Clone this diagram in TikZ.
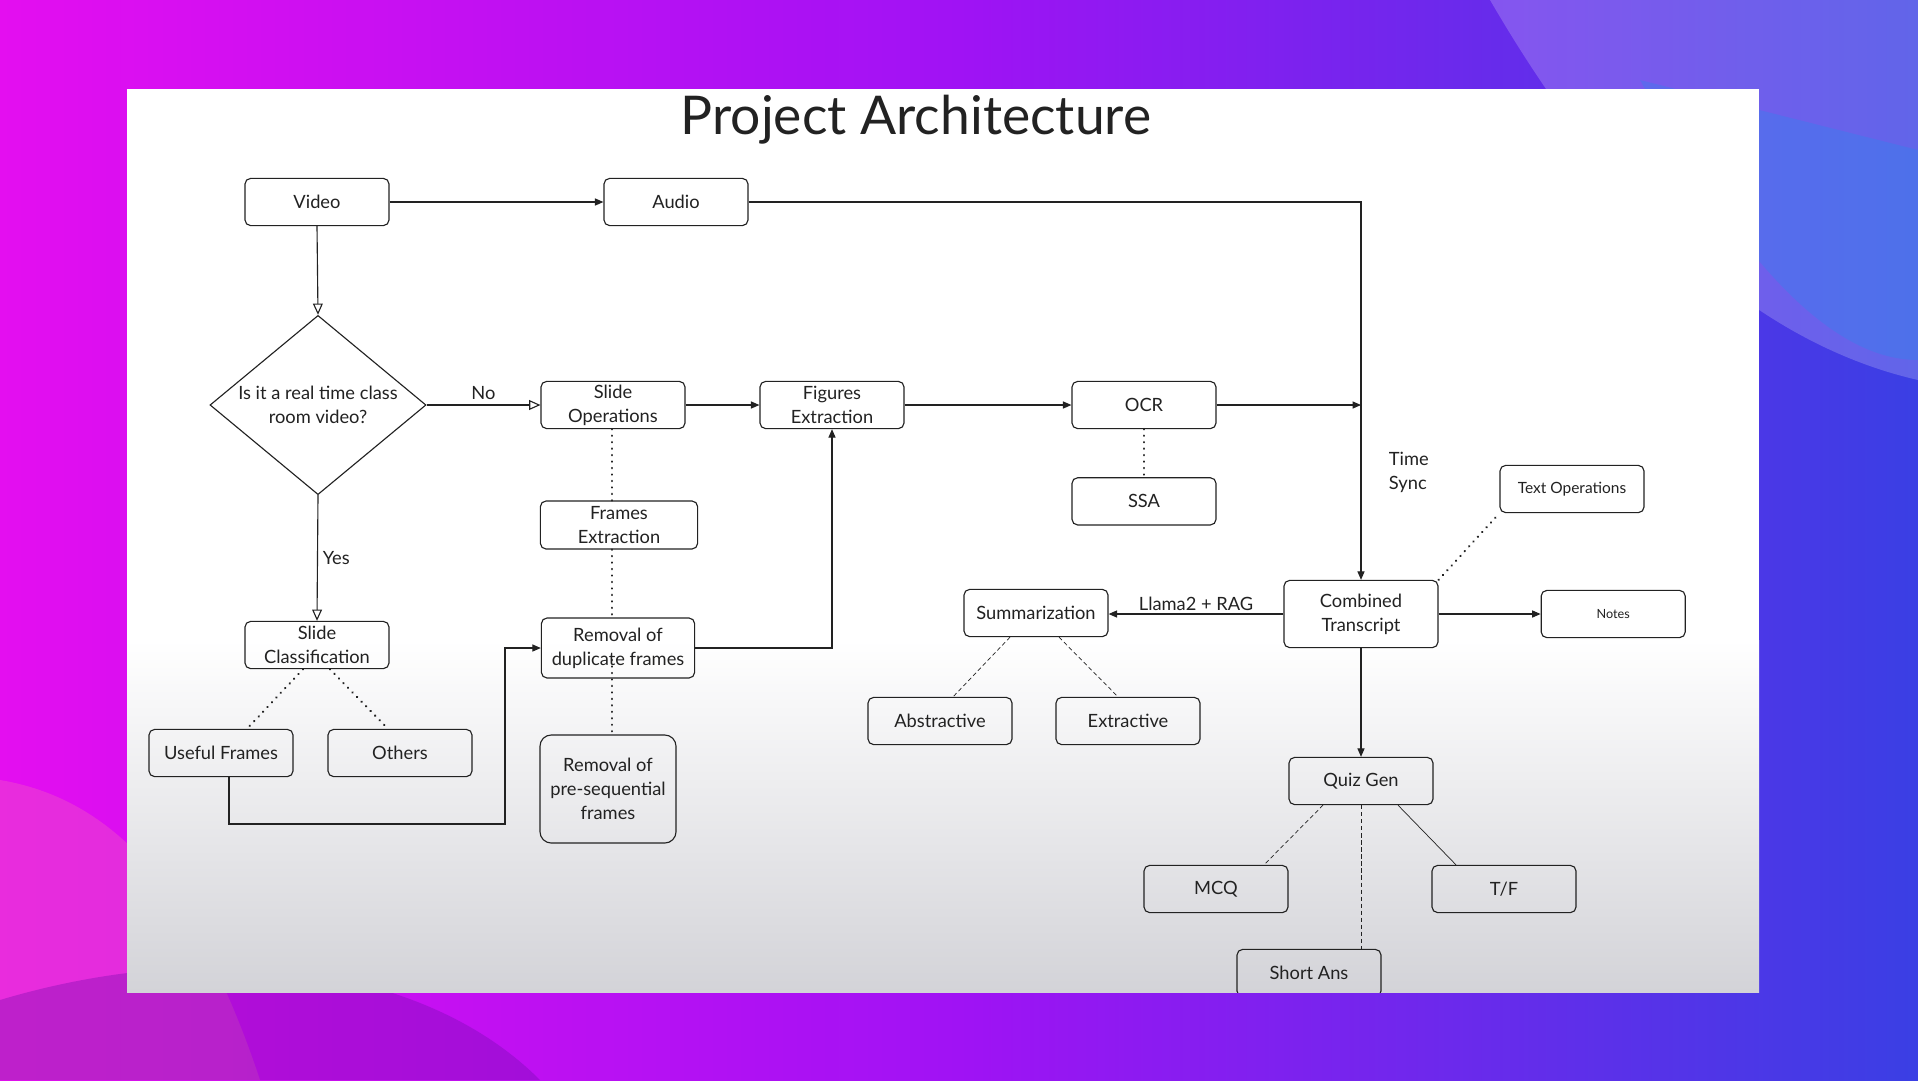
\documentclass[tikz,border=0pt]{standalone}
\usepackage{fontspec}
\setmainfont{Lato}
\usetikzlibrary{arrows.meta,positioning,shapes.geometric,calc}

\definecolor{ink}{HTML}{222222}
\definecolor{bgpink}{HTML}{E40EF0}
\definecolor{bgpurple}{HTML}{A012F4}
\definecolor{bgblue}{HTML}{3A3FE4}
\definecolor{slidegray}{HTML}{D3D3D8}

\tikzset{
  procbox/.style={
    rectangle, rounded corners=4pt, draw=ink, line width=0.8pt,
    minimum width=3.6cm, minimum height=1.18cm,
    font=\fontsize{13}{17}\selectfont, text=ink, align=center,
    inner sep=2pt
  },
  decision/.style={
    diamond, draw=ink, line width=0.8pt,
    minimum width=5.4cm, minimum height=4.48cm, inner sep=0pt
  },
  qtext/.style={font=\fontsize{13}{17}\selectfont, text=ink, align=center},
  edgelabel/.style={font=\fontsize{13}{17}\selectfont, text=ink},
  flow/.style={-{Triangle[length=6pt, width=5pt]}, line width=0.8pt, draw=ink},
  openflow/.style={-{Triangle[open, length=8pt, width=7pt, fill=white]},
    line width=0.8pt, draw=ink},
  dots/.style={line width=1.7pt, dash pattern=on 0.1pt off 4.5pt,
    line cap=round, draw=ink},
  dashes/.style={line width=0.5pt, dash pattern=on 3pt off 2pt, draw=ink},
  thinline/.style={line width=0.5pt, draw=ink},
}

\begin{document}
\begin{tikzpicture}[x=0.025cm, y=-0.025cm]

% backdrop
\shade[left color=bgpink, right color=bgblue, middle color=bgpurple]
  (0,0) rectangle (1918,1080);
\fill[white, opacity=0.2] (1490,0) .. controls (1560,120) and (1700,330) .. (1918,380)
  -- (1918,0) -- cycle;
\fill[bgblue!60!cyan, opacity=0.3] (1640,80) .. controls (1760,300) and (1850,360) .. (1918,360)
  -- (1918,150) -- cycle;
\fill[magenta!60!white, opacity=0.35] (0,780) .. controls (120,800) and (200,900) .. (260,1080)
  -- (0,1080) -- cycle;
\fill[bgpurple!70!black, opacity=0.35] (0,1000) .. controls (200,940) and (420,960) .. (540,1080)
  -- (0,1080) -- cycle;

% slide
\fill[white] (127,89) rectangle (1759,992);
\shade[top color=white, bottom color=slidegray] (127,640) rectangle (1759,992);

\node[font=\fontsize{38}{44}\selectfont, text=ink] (title) at (916,120) {Project Architecture};

% video branch
\node[procbox] (video) at (317,202) {Video};
\node[procbox] (audio) at (676,202) {Audio};
\node[decision] (realtime) at (318,405) {};
\node[qtext] (question) at (realtime.center) {Is it a real time class\\room video?};
\node[procbox] (slideops) at (613,405) {Slide\\Operations};
\node[procbox] (figures) at (832,405) {Figures\\Extraction};
\node[procbox] (ocr) at (1144,405) {OCR};
\node[procbox, below=1.2cm of ocr] (ssa) {SSA};
\node[procbox, minimum width=3.93cm, minimum height=1.2cm] (frames) at (619,525) {Frames\\Extraction};
\node[procbox, minimum width=3.83cm, minimum height=1.5cm] (dedup) at (618,648) {Removal of\\duplicate frames};
\node[procbox, minimum width=3.4cm, minimum height=2.7cm, rounded corners=8pt] (preseq) at (608,789) {Removal of\\pre-sequential\\frames};
\node[procbox] (classify) at (317,645) {Slide\\Classification};
\node[procbox] (useful) at (221,753) {Useful Frames};
\node[procbox] (others) at (400,753) {Others};

% transcript branch
\node[procbox, minimum width=3.85cm, minimum height=1.68cm] (combined) at (1361,614) {Combined\\Transcript};
\node[procbox] (summ) at (1036,613) {Summarization};
\node[procbox, right=2.55cm of combined, font=\fontsize{9}{11}\selectfont] (notes) {Notes};
\node[procbox, font=\fontsize{11}{13}\selectfont] (textops) at (1572,489) {Text Operations};
\node[procbox] (abstr) at (940,721) {Abstractive};
\node[procbox] (extr) at (1128,721) {Extractive};
\node[procbox] (quiz) at (1361,781) {Quiz Gen};
\node[procbox] (mcq) at (1216,889) {MCQ};
\node[procbox] (truefalse) at (1504,889) {T/F};

% main flow
\draw[flow] (video) -- (audio);
\draw[flow] (audio.east) -| (combined.north);
\draw[openflow] (video.south) -- (realtime.north);
\draw[openflow] (realtime.east) -- node[edgelabel, above] (nolbl) {No} (slideops.west);
\draw[openflow] (realtime.south) -- node[edgelabel, right] (yeslbl) {Yes} (classify.north);
\draw[flow] (slideops) -- (figures);
\draw[flow] (figures) -- (ocr);
\coordinate (merge) at (ocr.east -| combined.north);
\draw[flow] (ocr.east) -- (merge);
\node[edgelabel, anchor=north west, align=left] (sync) at (1384,447) {Time\\Sync};
\draw[dots] (ocr) -- (ssa);

% frame cleanup chain
\coordinate (spine) at (612,0);
\draw[dots] (slideops.south -| spine) -- (frames.north -| spine);
\draw[dots] (frames.south -| spine) -- (dedup.north -| spine);
\draw[dots] ($(dedup.center -| spine)+(0,12)$) -- (preseq.north -| spine);
\draw[flow] (dedup.east) -| (figures.south);
\coordinate (detour) at (505,824);
\draw[flow] ($(useful.south)+(8,0)$) |- (detour) |- (dedup.west);
\draw[dots] ($(classify.south)+(-14,0)$) -- ($(useful.north)+(26,0)$);
\draw[dots] ($(classify.south)+(13,0)$) -- ($(others.north)+(-12,0)$);

% outputs
\draw[flow] (combined.west) -- node[edgelabel, above=-1pt] (llm) {Llama2 + RAG} (combined.west -| summ.east);
\draw[flow] (combined) -- (notes);
\draw[dots] (combined.north east) -- (textops.south west);
\draw[flow] (combined) -- (quiz);
\draw[dashes] ($(summ.south)+(-26,0)$) -- ($(abstr.north)+(13,0)$);
\draw[dashes] ($(summ.south)+(23,0)$) -- ($(extr.north)+(-10,0)$);
\draw[dashes] ($(quiz.south)+(-38,0)$) -- ($(mcq.north)+(48,0)$);
\draw[thinline] ($(quiz.south)+(37,0)$) -- ($(truefalse.north)+(-48,0)$);

\begin{scope}
  \clip (127,89) rectangle (1759,992);
  \node[procbox] (shortans) at (1309,973) {Short Ans};
  \draw[dashes] (quiz.south) -- (quiz.south |- shortans.north);
\end{scope}

\end{tikzpicture}
\end{document}
